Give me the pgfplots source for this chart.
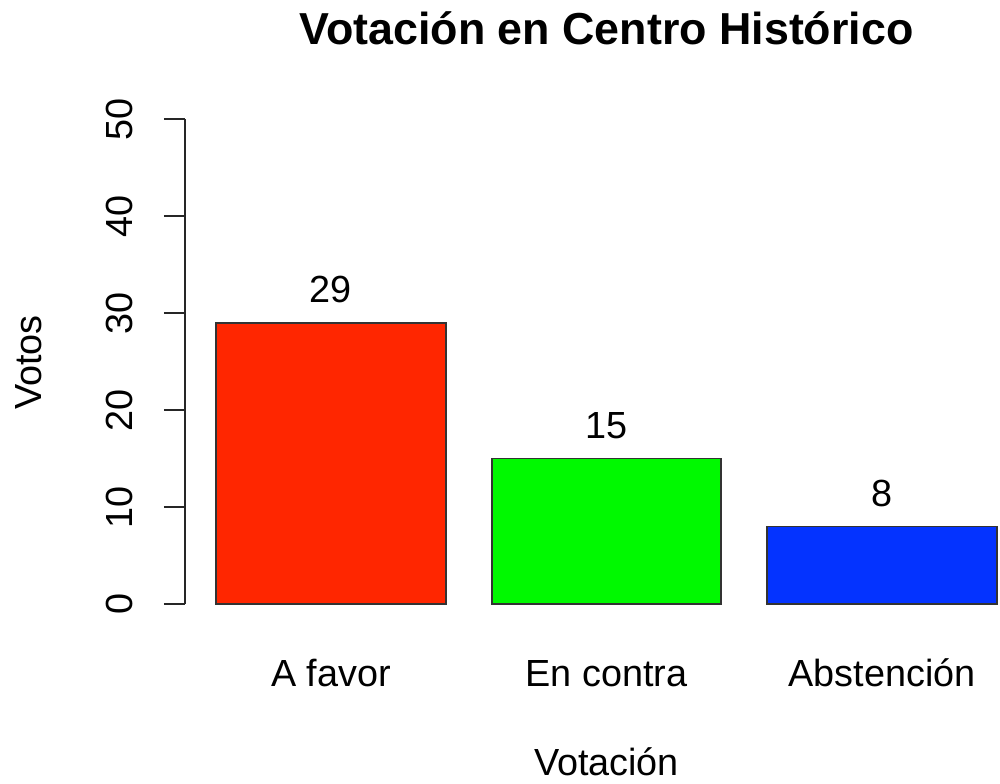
\documentclass[border=0pt]{standalone}
\usepackage{pgfplots}
\pgfplotsset{compat=1.18}
\usepackage{fontspec}
\setmainfont{Liberation Sans}
\definecolor{rred}{RGB}{255,38,0}
\definecolor{rgreen}{RGB}{0,249,0}
\definecolor{rblue}{RGB}{4,51,255}
\begin{document}
\fontsize{18.9pt}{22.5pt}\selectfont
\begin{tikzpicture}[x=1pt,y=1pt]
\path[use as bounding box] (0,0) rectangle (500,391.5);
\clip (0,0) rectangle (500,391.5);
\begin{axis}[
  at={(92.4pt,79.8pt)}, anchor=south west,
  scale only axis, width=421.7pt, height=261.9pt,
  xmin=0.064, xmax=3.736, ymin=-2, ymax=52,
  ybar, bar width=1, bar shift=0pt,
  axis x line*=bottom, axis y line*=left,
  x axis line style={draw=none}, y axis line style={draw=none},
  xtick={0.7,1.9,3.1},
  xticklabels={A favor, En contra, Abstención},
  x tick style={draw=none},
  ytick={0,10,20,30,40,50},
  y tick style={black!85, line width=0.9pt},
  tick align=outside, major tick length=10.5pt,
  /pgf/number format/assume math mode=true,
  tick label style={font=\fontsize{18.9pt}{22.5pt}\selectfont},
  yticklabel style={rotate=90, anchor=base, inner sep=0pt},
  yticklabel shift=15.5pt,
  xticklabel style={anchor=base, inner sep=0pt},
  xticklabel shift=20.8pt,
  nodes near coords,
  nodes near coords style={anchor=base, inner sep=0pt, yshift=10pt, black, font=\fontsize{18.9pt}{22.5pt}\selectfont},
  clip=false,
]
\addplot[fill=rred, draw=black!80, line width=0.9pt] coordinates {(0.7,29)};
\addplot[fill=rgreen, draw=black!80, line width=0.9pt] coordinates {(1.9,15)};
\addplot[fill=rblue, draw=black!80, line width=0.9pt] coordinates {(3.1,8)};
\draw[black!85, line width=0.9pt] (axis cs:0.064,0) -- (axis cs:0.064,50);
\end{axis}
\node[anchor=base, font=\fontsize{22.4pt}{27pt}\selectfont\bfseries] at (303.25,369) {Votación en Centro Histórico};
\node[anchor=base] at (303.25,4) {Votación};
\node[anchor=base, rotate=90] at (21,210.25) {Votos};
\end{tikzpicture}
\end{document}
